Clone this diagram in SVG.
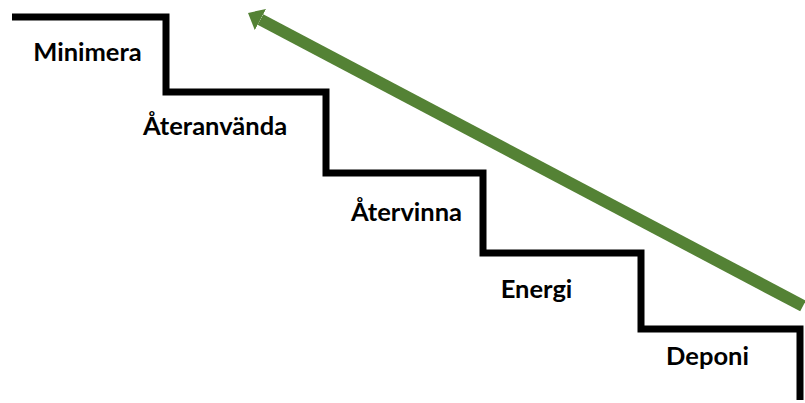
<svg xmlns="http://www.w3.org/2000/svg" width="805" height="403" viewBox="0 0 805 403">
<style>
.lbl{font-family:Lato,"Liberation Sans",sans-serif;font-weight:bold;font-size:25.5px;fill:#000;text-anchor:middle}
.stair{fill:none;stroke:#000;stroke-width:7;stroke-linejoin:miter}
.arrow{fill:none;stroke:#548235;stroke-width:12}
</style>
<defs>
<marker id="ah" markerUnits="userSpaceOnUse" markerWidth="30" markerHeight="30" refX="0" refY="12" orient="auto">
<path d="M0,0 L14,12 L0,24 Z" fill="#548235"/>
</marker>
</defs>
<rect width="805" height="403" fill="#fff"/>
<g id="connectors">
<path id="stairs" class="stair" d="M12 17 H166 V92 H326 V173 H483 V253 H641 V329 H800 V400"/>
<line id="arrow" class="arrow" x1="803" y1="306" x2="260.4" y2="19.5" marker-end="url(#ah)"/>
</g>
<g id="n-minimera"><text class="lbl" x="87.5" y="61">Minimera</text></g>
<g id="n-ateranvanda"><text class="lbl" x="215" y="135">Återanvända</text></g>
<g id="n-atervinna"><text class="lbl" x="406.5" y="221">Återvinna</text></g>
<g id="n-energi"><text class="lbl" x="536.5" y="298">Energi</text></g>
<g id="n-deponi"><text class="lbl" x="707.5" y="365">Deponi</text></g>
</svg>
